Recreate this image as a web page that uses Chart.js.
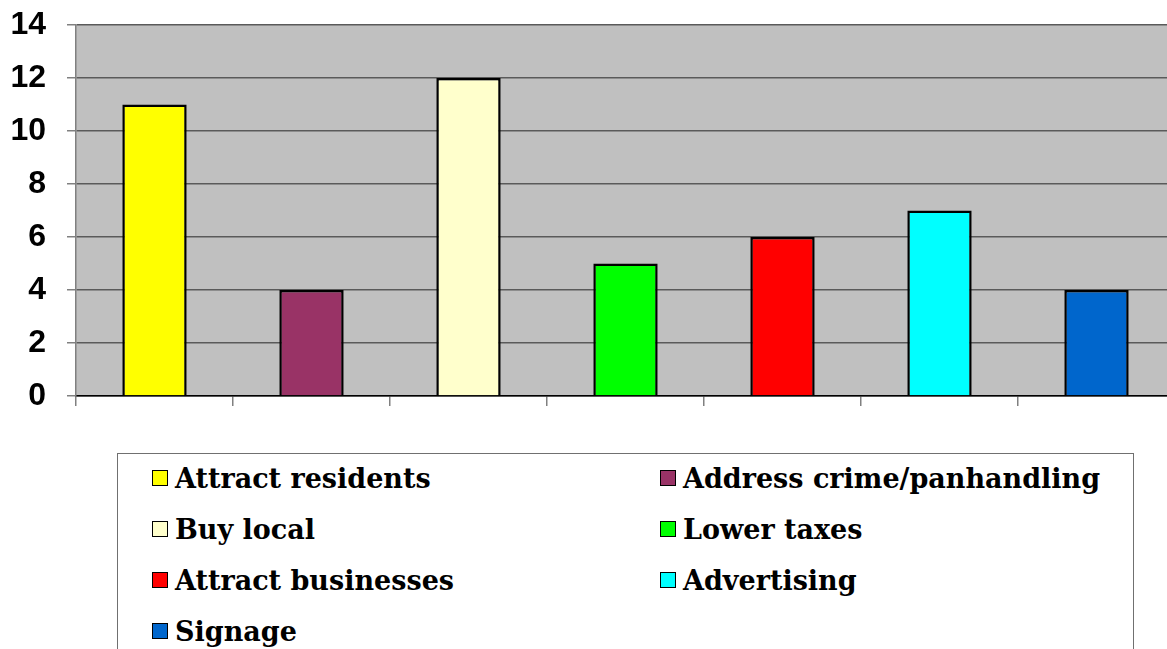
<!DOCTYPE html>
<html lang="en">
	<head>
		<meta charset="UTF-8">
		<script src="https://cdn.jsdelivr.net/npm/chart.js@4.4.1/dist/chart.umd.min.js"></script>
		<title>Priorities</title>
		<style>
			body { margin: 0; background: #fff; width: 1167px; height: 649px; overflow: hidden; position: relative; }
			#chart-box { position: absolute; left: 0; top: 0; width: 1175px; height: 420px; }
			#legend-box { position: absolute; left: 117px; top: 453px; width: 1017px; height: 240px; border: 1.5px solid #707070; box-sizing: border-box; }
			.leg-item { position: absolute; display: flex; align-items: center; height: 34px; font-family: "DejaVu Serif", serif; font-weight: bold; font-size: 27px; color: #000; white-space: nowrap; }
			.leg-item span.sw { width: 14px; height: 14px; border: 1.8px solid #000; margin-right: 7px; display: inline-block; }
		</style>
	</head>
	<body>
		<div id="chart-box"><canvas id="bar-chart"></canvas></div>
		<div id="legend-box"></div>
		<script>
			// values
			var categories = ["Attract residents", "Address crime/panhandling", "Buy local", "Lower taxes", "Attract businesses", "Advertising", "Signage"];
			var counts = [11, 4, 12, 5, 6, 7, 4];
			var barColours = ["#FFFF00", "#993366", "#FFFFCC", "#00FF00", "#FF0000", "#00FFFF", "#0066CC"];
			var yTicks = [0, 2, 4, 6, 8, 10, 12, 14];

			// grey plot background
			var plotBackground = {
				id: "plotBackground",
				beforeDraw: function (chart) {
					var a = chart.chartArea;
					var ctx = chart.ctx;
					ctx.save();
					ctx.fillStyle = "#C0C0C0";
					ctx.fillRect(a.left, a.top, a.right - a.left, a.bottom - a.top);
					ctx.restore();
				}
			};

			var chartObject = new Chart(document.getElementById("bar-chart"), {
				type: "bar",
				data: {
					labels: categories,
					datasets: [{
						label: "Count",
						data: counts,
						backgroundColor: barColours,
						borderColor: "#000",
						borderWidth: 2.5,
						categoryPercentage: 1,
						barPercentage: 0.41
					}]
				},
				options: {
					responsive: true,
					maintainAspectRatio: false,
					animation: false,
					layout: { padding: { top: 25, right: 0, left: 0, bottom: 0 } },
					plugins: { legend: { display: false }, tooltip: { enabled: false } },
					scales: {
						x: {
							offset: true,
							grid: { offset: true, drawOnChartArea: false, drawTicks: true, tickLength: 10, color: "#808080", lineWidth: 1.5 },
							border: { color: "#000", width: 1.5 },
							ticks: { display: false },
							afterFit: function (scale) { scale.height = 24; }
						},
						y: {
							min: 0,
							max: 14,
							afterBuildTicks: function (scale) {
								scale.ticks = yTicks.map(function (v) { return { value: v }; });
							},
							grid: { color: "#5a5a5a", lineWidth: 1.5, tickLength: 9, tickColor: "#808080" },
							border: { color: "#808080", width: 1.5 },
							ticks: {
								color: "#000",
								padding: 21,
								font: { family: "Liberation Sans", weight: "bold", size: 32 }
							},
							afterFit: function (scale) {
								scale.width = 76;
								scale.paddingTop = 0;
								scale.paddingBottom = 0;
							}
						}
					}
				},
				plugins: [plotBackground]
			});

			// two column legend in a box, built from the same arrays
			var legendBox = document.getElementById("legend-box");
			var colLeft = [34, 542];
			for (var i = 0; i < categories.length; i++) {
				var item = document.createElement("div");
				item.className = "leg-item";
				item.style.left = colLeft[i % 2] + "px";
				item.style.top = (7 + Math.floor(i / 2) * 51) + "px";
				var sw = document.createElement("span");
				sw.className = "sw";
				sw.style.background = barColours[i];
				item.appendChild(sw);
				item.appendChild(document.createTextNode(categories[i]));
				legendBox.appendChild(item);
			}
		</script>
	</body>
</html>
